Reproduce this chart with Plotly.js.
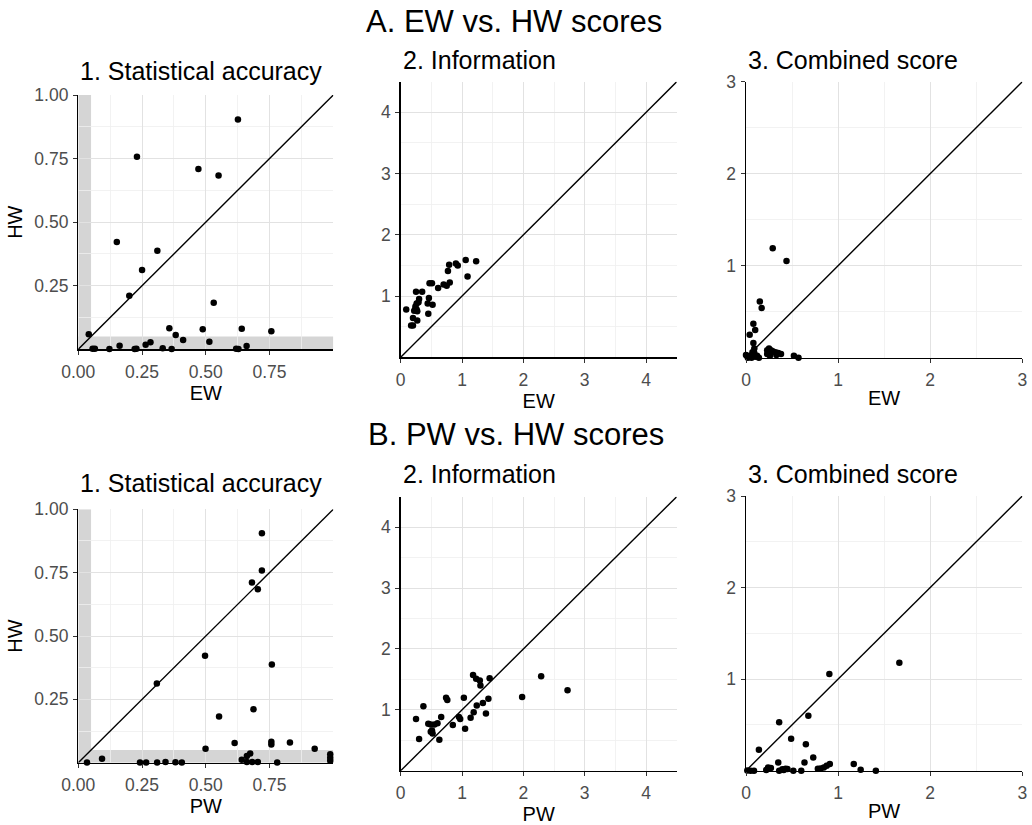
<!DOCTYPE html>
<html>
<head>
<meta charset="utf-8">
<script src="https://cdn.plot.ly/plotly-3.0.1.min.js"></script>
<style>html,body{margin:0;padding:0;background:#fff;}#chart{width:1032px;height:825px;}</style>
</head>
<body>
<div id="chart"></div>
<script>
// ---------------- DATA ----------------
// A. EW vs HW
const ewStatAcc = [0.626,0.230,0.471,0.550,0.151,0.310,0.250,0.200,0.531,0.041,0.357,0.382,0.411,0.488,0.514,0.641,0.757,0.660,0.162,0.264,0.283,0.056,0.065,0.122,0.221,0.228,0.331,0.366,0.619,0.628];
const hwStatAccA = [0.904,0.757,0.709,0.683,0.422,0.388,0.312,0.211,0.183,0.059,0.083,0.056,0.037,0.079,0.030,0.081,0.071,0.013,0.014,0.018,0.028,0.002,0.002,0.001,0.001,0.002,0.004,0.001,0.002,0.001];

const ewInfo = [0.09,0.17,0.20,0.20,0.22,0.24,0.25,0.26,0.27,0.27,0.30,0.29,0.35,0.44,0.45,0.46,0.52,0.47,0.51,0.61,0.70,0.75,0.80,0.77,0.79,0.90,0.93,1.06,1.09,1.23,0.24,0.26];
const hwInfoA = [0.78,0.52,0.52,0.64,0.76,0.83,1.07,0.88,0.75,0.60,0.95,0.90,1.07,0.88,0.71,0.97,0.86,1.21,1.21,1.13,1.19,1.17,1.22,1.41,1.51,1.53,1.50,1.59,1.32,1.57,0.79,0.78];

const ewComb = [0.29,0.44,0.15,0.17,0.08,0.10,0.04,0.08,0.09,0.07,0.09,0.01,0.03,0.05,0.02,0.12,0.06,0.10,0.23,0.25,0.27,0.29,0.32,0.35,0.38,0.23,0.26,0.52,0.57,0.33,0.14,0.00];
const hwCombA = [1.19,1.05,0.61,0.54,0.37,0.30,0.25,0.16,0.10,0.06,0.05,0.02,0.01,0.02,0.00,0.02,0.00,0.01,0.08,0.10,0.08,0.07,0.06,0.05,0.04,0.04,0.02,0.02,0.00,0.03,0.00,0.03];

// B. PW vs HW
const pwStatAcc = [0.720,0.720,0.681,0.704,0.497,0.759,0.308,0.687,0.552,0.757,0.830,0.613,0.757,0.499,0.927,0.674,0.661,0.988,0.988,0.093,0.641,0.988,0.034,0.242,0.266,0.309,0.342,0.381,0.406,0.661,0.682,0.704,0.780];
const hwStatAccB = [0.905,0.758,0.711,0.684,0.422,0.388,0.313,0.211,0.182,0.083,0.080,0.078,0.072,0.055,0.055,0.036,0.026,0.033,0.020,0.016,0.012,0.008,0.001,0.001,0.001,0.001,0.003,0.002,0.001,0.003,0.003,0.003,0.001];

const pwInfo = [0.25,0.30,0.37,0.45,0.49,0.49,0.52,0.55,0.60,0.63,0.66,0.74,0.76,0.85,0.95,0.97,1.03,1.05,1.14,1.19,1.18,1.23,1.29,1.30,1.24,1.34,1.39,1.43,1.45,1.98,2.29,2.72,0.51];
const hwInfoB = [0.85,0.52,1.06,0.77,0.76,0.64,0.61,0.76,0.78,0.51,0.88,1.20,1.16,0.75,0.88,0.85,1.20,0.69,0.87,0.96,1.57,1.51,1.48,1.40,1.07,1.11,0.94,1.18,1.52,1.21,1.55,1.32,0.66];

const pwComb = [1.665,0.905,0.677,0.36,0.49,0.65,0.14,0.73,0.35,0.635,1.17,0.91,0.876,0.845,0.81,0.78,1.245,1.41,0.24,0.25,0.22,0.395,0.43,0.45,0.41,0.514,0.60,0.014,0.05,0.087,0.36,0.27];
const hwCombB = [1.18,1.056,0.60,0.53,0.35,0.29,0.23,0.145,0.09,0.09,0.073,0.073,0.053,0.036,0.025,0.022,0.01,0.0,0.036,0.022,0.007,0.015,0.022,0.018,0.007,0.0,0.0,0.003,0.0,0.0,0.0,0.03];

// Tick labels and titles
const mainTitles = ["A. EW vs. HW scores", "B. PW vs. HW scores"];
const panelTitles = ["1. Statistical accuracy", "2. Information", "3. Combined score"];
const saXTicks = [0, 0.25, 0.5, 0.75];
const saXTickText = ["0.00", "0.25", "0.50", "0.75"];
const saYTicks = [0.25, 0.5, 0.75, 1];
const saYTickText = ["0.25", "0.50", "0.75", "1.00"];
const infXTicks = [0, 1, 2, 3, 4];
const infYTicks = [1, 2, 3, 4];
const combXTicks = [0, 1, 2, 3];
const combYTicks = [1, 2, 3];
const axisMax = [1, 4.5, 3];
const minorStep = [0.125, 0.5, 0.5];
const sigLevel = 0.05;

// ---------------- LAYOUT ----------------
const W = 1032, H = 825;
const FONT = "Liberation Sans, Arial, Helvetica, sans-serif";
const fx = p => p / W, fy = p => 1 - p / H;

// pixel boxes [left, right, top, bottom]
const boxes = [
  [78.3, 333.3, 95, 349.3], [400.7, 676.7, 81.7, 357.3], [746, 1022.3, 81.7, 357.7],
  [78.3, 333.3, 509.3, 762.7], [400.7, 676.7, 496.7, 770.7], [746, 1022.3, 496, 770.7]
];
const titleBase = [80, 69, 69, 491.7, 482.5, 482.5];

const panels = [
  {x: ewStatAcc, y: hwStatAccA, k: 0, xl: "EW"},
  {x: ewInfo, y: hwInfoA, k: 1, xl: "EW"},
  {x: ewComb, y: hwCombA, k: 2, xl: "EW"},
  {x: pwStatAcc, y: hwStatAccB, k: 0, xl: "PW"},
  {x: pwInfo, y: hwInfoB, k: 1, xl: "PW"},
  {x: pwComb, y: hwCombB, k: 2, xl: "PW"}
];

const xTV = [saXTicks, infXTicks, combXTicks];
const xTT = [saXTickText, infXTicks.map(String), combXTicks.map(String)];
const yTV = [saYTicks, infYTicks, combYTicks];
const yTT = [saYTickText, infYTicks.map(String), combYTicks.map(String)];

const layout = {
  width: W, height: H,
  margin: {l: 0, r: 0, t: 0, b: 0},
  paper_bgcolor: "#ffffff", plot_bgcolor: "#ffffff",
  font: {family: FONT, color: "#000"},
  showlegend: false,
  shapes: [], annotations: []
};
const traces = [];

panels.forEach((p, i) => {
  const n = i + 1;
  const xa = n === 1 ? "xaxis" : "xaxis" + n;
  const ya = n === 1 ? "yaxis" : "yaxis" + n;
  const xr = n === 1 ? "x" : "x" + n;
  const yr = n === 1 ? "y" : "y" + n;
  const b = boxes[i];
  const m = axisMax[p.k];
  const common = {
    range: [0, m], showline: true, linecolor: "#000", linewidth: 1.4,
    zeroline: false, showgrid: true, gridcolor: "#e2e2e2", gridwidth: 1,
    ticks: "outside", ticklen: 4, tickwidth: 1, tickcolor: "#333",
    tickfont: {size: 17.5, color: "#4d4d4d", family: FONT},
    tickmode: "array", fixedrange: true,
    minor: {tickmode: "linear", tick0: 0, dtick: minorStep[p.k], showgrid: true, gridcolor: "#efefef", gridwidth: 0.8, ticks: ""}
  };
  layout[xa] = Object.assign({}, common, {
    domain: [fx(b[0]), fx(b[1])], anchor: yr,
    tickvals: xTV[p.k], ticktext: xTT[p.k], ticklabelstandoff: 2,
    title: {text: p.xl, font: {size: 20, color: "#000", family: FONT}, standoff: 2}
  });
  layout[ya] = Object.assign({}, common, {
    domain: [fy(b[3]), fy(b[2])], anchor: xr,
    tickvals: yTV[p.k], ticktext: yTT[p.k], ticklabelstandoff: 1,
    title: p.k === 0 ? {text: "HW", font: {size: 20, color: "#000", family: FONT}, standoff: 6} : {text: ""}
  });

  if (p.k === 0) {
    layout.shapes.push({type: "rect", xref: xr, yref: yr, x0: 0, x1: sigLevel, y0: 0, y1: m,
      fillcolor: "#d5d5d5", line: {width: 0}, layer: "below"});
    layout.shapes.push({type: "rect", xref: xr, yref: yr, x0: 0, x1: m, y0: 0, y1: sigLevel,
      fillcolor: "#d5d5d5", line: {width: 0}, layer: "below"});
  }
  layout.shapes.push({type: "line", xref: xr, yref: yr, x0: 0, y0: 0, x1: m, y1: m,
    line: {color: "#000", width: 1.4}, layer: "above"});

  traces.push({type: "scatter", mode: "markers", x: p.x, y: p.y, xaxis: xr, yaxis: yr,
    cliponaxis: false, marker: {color: "#000", size: 6.5}, hoverinfo: "x+y"});

  layout.annotations.push({text: panelTitles[p.k], xref: "paper", yref: "paper",
    x: fx(b[0]), y: fy(titleBase[i] + 7), xanchor: "left", yanchor: "bottom",
    showarrow: false, font: {size: 25, color: "#000", family: FONT}});
});

layout.annotations.push({text: mainTitles[0], xref: "paper", yref: "paper",
  x: fx(514), y: fy(33 + 8), xanchor: "center", yanchor: "bottom", showarrow: false,
  font: {size: 31, color: "#000", family: FONT}});
layout.annotations.push({text: mainTitles[1], xref: "paper", yref: "paper",
  x: fx(516), y: fy(446 + 8), xanchor: "center", yanchor: "bottom", showarrow: false,
  font: {size: 31, color: "#000", family: FONT}});

Plotly.newPlot("chart", traces, layout, {staticPlot: true, displayModeBar: false});
</script>
</body>
</html>
